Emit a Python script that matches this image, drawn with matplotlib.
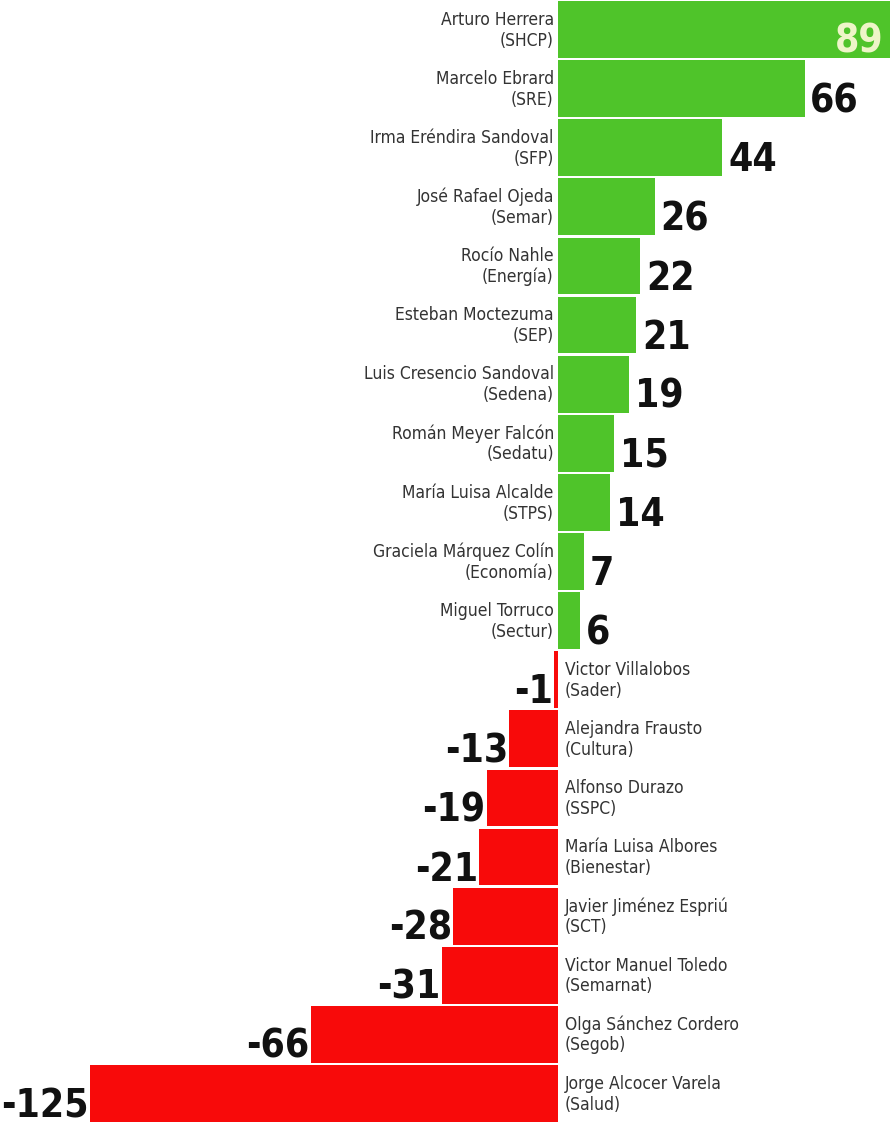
import os
import matplotlib.pyplot as plt
from matplotlib import font_manager

names = ['Arturo Herrera', 'Marcelo Ebrard', 'Irma Eréndira Sandoval', 'José Rafael Ojeda',
         'Rocío Nahle', 'Esteban Moctezuma', 'Luis Cresencio Sandoval', 'Román Meyer Falcón',
         'María Luisa Alcalde', 'Graciela Márquez Colín', 'Miguel Torruco',
         'Victor Villalobos', 'Alejandra Frausto', 'Alfonso Durazo', 'María Luisa Albores',
         'Javier Jiménez Espriú', 'Victor Manuel Toledo', 'Olga Sánchez Cordero',
         'Jorge Alcocer Varela']
orgs = ['(SHCP)', '(SRE)', '(SFP)', '(Semar)', '(Energía)', '(SEP)', '(Sedena)', '(Sedatu)',
        '(STPS)', '(Economía)', '(Sectur)', '(Sader)', '(Cultura)', '(SSPC)', '(Bienestar)',
        '(SCT)', '(Semarnat)', '(Segob)', '(Salud)']
values = [89, 66, 44, 26, 22, 21, 19, 15, 14, 7, 6,
          -1, -13, -19, -21, -28, -31, -66, -125]

# look for a narrow font file, fall back to plain DejaVu
files = [f.fname for f in font_manager.fontManager.ttflist]

def pick(keys):
    for k in keys:
        for f in files:
            if os.path.basename(f) == k:
                return f
    return None

bold_file = pick(['LiberationSansNarrow-Bold.ttf', 'DejaVuSansCondensed-Bold.ttf',
                  'RobotoCondensed-Bold.ttf', 'OpenSans_Condensed-Bold.ttf'])
reg_file = pick(['DejaVuSansCondensed.ttf', 'LiberationSansNarrow-Regular.ttf',
                 'RobotoCondensed-Regular.ttf'])

if bold_file:
    num_font = font_manager.FontProperties(fname=bold_file, size=28)
else:
    num_font = font_manager.FontProperties(family='DejaVu Sans', weight='bold', size=25)
if reg_file:
    lab_font = font_manager.FontProperties(fname=reg_file, size=12.5)
else:
    lab_font = font_manager.FontProperties(family='DejaVu Sans', size=11.5)

fig = plt.figure(figsize=(8.9, 11.23), dpi=100)
ax = fig.add_axes([0, 0, 1, 1])

green = '#4fc42a'
red = '#f80a0a'
colors = [green if v > 0 else red for v in values]
ypos = list(range(len(values)))
ax.barh(ypos, values, height=0.96, color=colors, edgecolor='none')

ax.set_xlim(-149.2, 88.8)
ax.set_ylim(len(values) - 0.5, -0.5)
ax.axis('off')

txt = '#333333'
for y, v, n, o in zip(ypos, values, names, orgs):
    if v > 0:
        ax.annotate(n, (0, y), xytext=(-3, 7), textcoords='offset points',
                    ha='right', va='center', color=txt, fontproperties=lab_font)
        ax.annotate(o, (0, y), xytext=(-3, -8), textcoords='offset points',
                    ha='right', va='center', color=txt, fontproperties=lab_font)
        if v == max(values):
            ax.annotate(str(v), (v, y + 0.38), xytext=(-5, 0), textcoords='offset points',
                        ha='right', va='baseline', color='#eef5c8', fontproperties=num_font,
                        annotation_clip=False)
        else:
            ax.annotate(str(v), (v, y + 0.40), xytext=(4, 0), textcoords='offset points',
                        ha='left', va='baseline', color='#111111', fontproperties=num_font)
    else:
        ax.annotate(n, (0, y), xytext=(5, 7), textcoords='offset points',
                    ha='left', va='center', color=txt, fontproperties=lab_font)
        ax.annotate(o, (0, y), xytext=(5, -8), textcoords='offset points',
                    ha='left', va='center', color=txt, fontproperties=lab_font)
        ax.annotate(str(v), (v, y + 0.40), xytext=(-1, 0), textcoords='offset points',
                    ha='right', va='baseline', color='#111111', fontproperties=num_font)

fig.savefig('out.png', dpi=100, facecolor='white')
